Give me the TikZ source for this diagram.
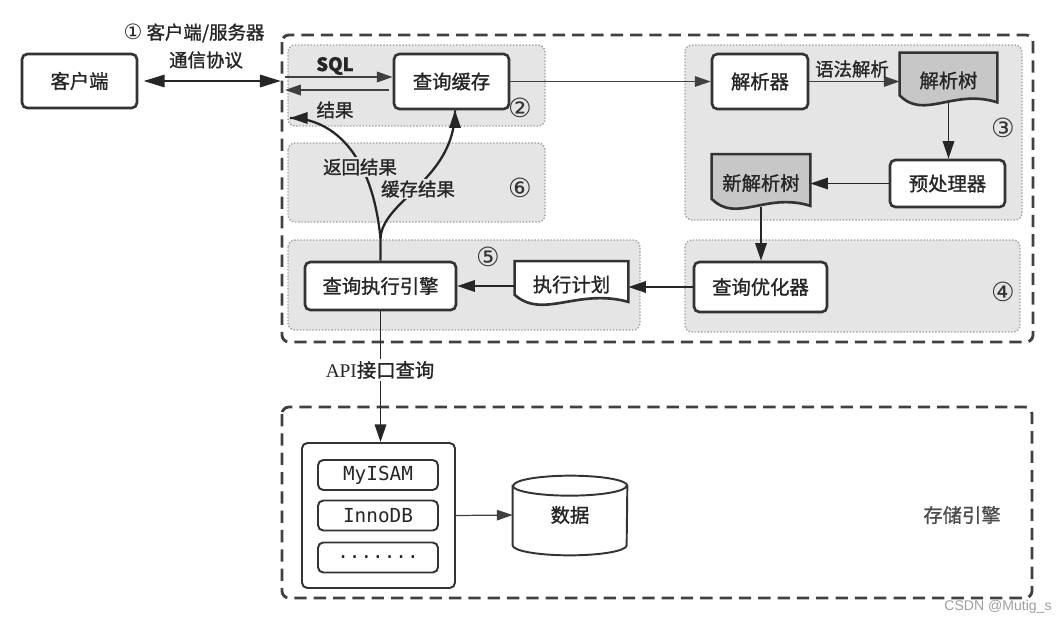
\documentclass[tikz,border=0pt]{standalone}
\usepackage{fontspec}
\setmainfont{Noto Sans CJK SC}[FakeBold=1.2]
\newfontfamily\circfont{DejaVu Sans}
\newfontfamily\codefont{DejaVu Sans Mono}
\newfontfamily\apifont{Liberation Serif}
\newfontfamily\markfont{Liberation Sans}
\usetikzlibrary{arrows.meta,calc,backgrounds}

\tikzset{
  box/.style={draw=black!80, line width=1.5pt, rounded corners=3pt, fill=white, text=black!85,
    font=\fontsize{11}{13}\selectfont, inner sep=0pt},
  doc/.style={inner sep=0pt, text=black!85, font=\fontsize{11}{13}\selectfont},
  docline/.style={draw=black!80, line width=1.5pt},
  engbox/.style={draw=black!80, line width=1.1pt, rounded corners=3pt, fill=white,
    minimum width=2.4cm, minimum height=0.6cm, text=black!85, font=\codefont\fontsize{11}{13}\selectfont, inner sep=0pt},
  panel/.style={draw=gray!75, densely dotted, fill=gray!20, rounded corners=4pt, line width=0.8pt},
  outer/.style={draw=black!75, line width=1.6pt, dash pattern=on 7pt off 4pt, rounded corners=4pt},
  flow/.style={-{Triangle[length=10pt,width=6.5pt]}, line width=1.1pt, draw=black!85},
  thin/.style={-{Triangle[length=9pt,width=6pt]}, line width=0.7pt, draw=black!75},
  curve/.style={line width=1.3pt, draw=black!85},
  lbl/.style={text=black!85, font=\fontsize{10.5}{12}\selectfont, inner sep=1pt},
  num/.style={text=black!80, font=\circfont\fontsize{15}{17}\selectfont, inner sep=0pt},
}

% draw a document outline (wavy bottom) round a node
\newcommand\docwave[2]{%
  \draw[docline, fill=#2] (#1.north west) -- (#1.north east) -- ($(#1.south east)+(0,-6)$)
    .. controls ($(#1.south west)!0.55!(#1.south east)+(0,-20)$) and ($(#1.south west)!0.25!(#1.south east)+(0,12)$)
    .. ($(#1.south west)+(0,-13)$) -- cycle;}

\begin{document}
\begin{tikzpicture}[x=0.02cm, y=-0.02cm]
  \useasboundingbox (0,0) rectangle (1062,623);

  % Outer frames
  \draw[outer] (282,35) rectangle (1033,342);
  \draw[outer] (282,407) rectangle (1032,598);

  % Client
  \node[box, minimum width=2.3cm, minimum height=1.08cm] (client) at (79.5,81) {客户端};
  \node[lbl] (proto1) at (194,33) {{\circfont\fontsize{12}{14}\selectfont ①} 客户端/服务器};
  \node[lbl] (proto2) at (206,60) {通信协议};
  \coordinate (srv) at (281,81);
  \draw[{Triangle[length=12pt,width=7pt]}-{Triangle[length=12pt,width=7pt]}, line width=1.3pt, draw=black!85, shorten <=3pt]
    (client.east) -- (srv);

  % Server boxes
  \node[box, minimum width=2.3cm, minimum height=1.1cm] (cache) at (451.5,81.5) {查询缓存};
  \node[box, minimum width=1.92cm, minimum height=1.1cm] (parser) at (760,81.5) {解析器};
  \node[doc, minimum width=1.94cm, minimum height=1.1cm] (tree) at (948.5,80.5) {解析树};
  \node[box, minimum width=2.3cm, minimum height=0.94cm] (prep) at (947.5,183.5) {预处理器};
  \node[doc, minimum width=1.96cm, minimum height=1.14cm] (newtree) at (761,183) {新解析树};
  \node[box, minimum width=2.66cm, minimum height=1.0cm] (optim) at (760.5,287) {查询优化器};
  \node[doc, minimum width=2.26cm, minimum height=0.92cm] (plan) at (571.5,284.5) {执行计划};
  \node[box, minimum width=3.02cm, minimum height=0.96cm] (exec) at (380.5,286) {查询执行引擎};

  % Step numbers
  \node[num] (n2) at (520,108) {②};
  \node[num] (n3) at (1003,128) {③};
  \node[num] (n4) at (1003,292) {④};
  \node[num] (n5) at (488,257) {⑤};
  \node[num] (n6) at (520,188) {⑥};

  % SQL in, result out
  \coordinate (sqlin) at (285,77);
  \coordinate (resout) at (285,90);
  \draw[thin, line width=1pt] (sqlin) -- (sqlin -| cache.west);
  \draw[thin, line width=1pt] ($(resout -| cache.west)+(-4,0)$) -- (resout);
  \node[lbl, font=\bfseries\fontsize{10.5}{12}\selectfont] (sql) at (335,66) {SQL};
  \node[lbl] (res) at (335,110) {结果};

  % Parsing flow
  \draw[thin] (cache.east) -- (parser.west);
  \draw[thin] (parser.east) -- (tree.west |- parser.east);
  \node[lbl] (syn) at (852,69) {语法解析};
  \draw[flow] ($(tree.south)+(0,-5)$) -- (tree.south |- prep.north);
  \draw[flow] (prep.west) -- (newtree.east |- prep.west);
  \draw[flow] ($(newtree.south)+(0,-5)$) -- (newtree.south |- optim.north);
  \draw[flow] (optim.west) -- (plan.east |- optim.west);
  \draw[flow] (plan.west |- exec.east) -- (exec.east);

  % Return and cache branches
  \coordinate (fork) at ($(exec.north)+(0,-22)$);
  \coordinate (retout) at (290,118);
  \draw[curve] (exec.north) -- (fork) .. controls (372,150) and (330,118) .. (retout);
  \draw[curve] (fork) .. controls (382,200) and (455,180) .. ($(cache.south)+(3.5,0)$);
  \draw[flow] (296,118) -- (retout);
  \draw[flow] ($(cache.south)+(3.5,10)$) -- ($(cache.south)+(3.5,0)$);
  \node[lbl, fill=gray!20] (ret) at (360,167) {返回结果};
  \node[lbl, fill=gray!20] (keep) at (418,189) {缓存结果};

  % Storage engines
  \node[box, line width=1.1pt, minimum width=3.06cm, minimum height=2.9cm] (engines) at (378.5,515.5) {};
  \node[engbox] (myisam) at (378,475) {MyISAM};
  \node[engbox] (innodb) at (378,515.5) {InnoDB};
  \node[engbox] (other) at (378,557.5) {.......};
  \draw[flow] (exec.south) -- (exec.south |- engines.north);
  \node[lbl, fill=white, font=\fontsize{11}{13}\selectfont] (api) at (380,370) {{\apifont API}接口查询};
  \node[doc, minimum width=2.28cm, minimum height=1.6cm] (data) at (570,515) {数据};
  \draw[thin] (engines.east) -- (data.west);
  \node[lbl, text=black!70, font=\fontsize{11}{13}\selectfont] (store) at (962,515) {存储引擎};
  \node[text=gray!75, font=\markfont\fontsize{8}{10}\selectfont] (wm) at (998,607) {CSDN @Mutig\_s};

  % Panels and shapes behind
  \begin{scope}[on background layer]
    \draw[panel] (288,45) rectangle (545,126);
    \draw[panel] (288,143) rectangle (545,222);
    \draw[panel] (288,240) rectangle (640,330);
    \draw[panel] (685,45) rectangle (1022,220);
    \draw[panel] (685,240) rectangle (1020,332);
    \docwave{tree}{black!22}
    \docwave{newtree}{black!22}
    \docwave{plan}{white}
    \draw[docline, line width=1.1pt, fill=white] ($(data.north west)+(0,11)$) -- ($(data.south west)+(0,-10)$)
      arc[start angle=180, end angle=360, x radius=1.14cm, y radius=0.2cm]
      -- ($(data.north east)+(0,11)$)
      arc[start angle=0, end angle=180, x radius=1.14cm, y radius=0.2cm] -- cycle;
    \draw[docline, line width=1.1pt] ($(data.north west)+(0,11)$)
      arc[start angle=180, end angle=360, x radius=1.14cm, y radius=0.2cm];
  \end{scope}
\end{tikzpicture}
\end{document}
